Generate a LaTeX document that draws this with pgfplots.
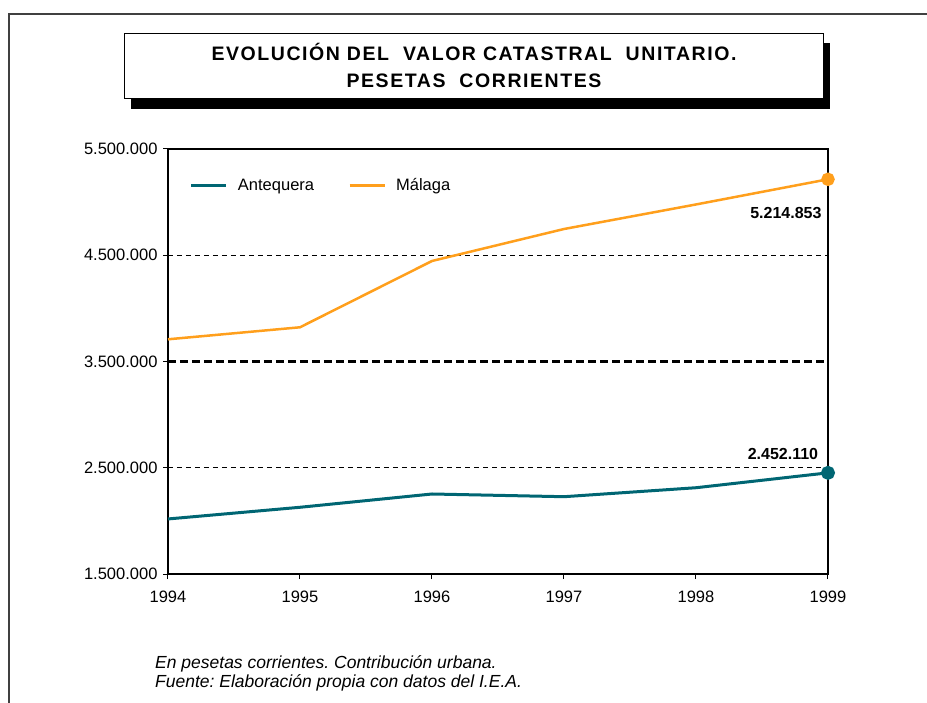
\documentclass[border=0pt]{standalone}
\usepackage{pgfplots}
\pgfplotsset{compat=1.18}
\usepackage{fontspec}
\setmainfont{Liberation Sans}
\definecolor{anteq}{HTML}{006673}
\definecolor{malaga}{HTML}{FF9F1C}
\frenchspacing
\begin{document}
\begin{tikzpicture}[x=1pt,y=1pt]
\useasboundingbox (-168,-128) rectangle (759,574);
\draw[line width=1.5pt, black!75] (-159,-140) -- (-159,560) -- (775,560);
% title box with shadow
\fill[black] (-37,465) rectangle (662,531);
\draw[fill=white, line width=1pt] (-43,475) rectangle (655,540);
\node[anchor=base, inner sep=0, font=\fontsize{19.5}{24}\selectfont\bfseries\addfontfeature{LetterSpace=8}] at (306,513.3) {EVOLUCIÓN DEL\ \ VALOR CATASTRAL\ \ UNITARIO.};
\node[anchor=base, inner sep=0, font=\fontsize{19.5}{24}\selectfont\bfseries\addfontfeature{LetterSpace=8}] at (306,486.7) {PESETAS\ \ CORRIENTES};
\begin{axis}[
  at={(0,0)}, anchor=south west, scale only axis,
  width=660pt, height=425pt,
  xmin=1994, xmax=1999, ymin=1500000, ymax=5500000,
  xtick={1994,1995,1996,1997,1998,1999},
  xticklabels={1994,1995,1996,1997,1998,1999},
  ytick={1500000,2500000,4500000,5500000},
  yticklabels={1.500.000,2.500.000,4.500.000,5.500.000},
  extra y ticks={3500000},
  extra y tick labels={3.500.000},
  extra y tick style={grid style={black, line width=2.5pt, dash pattern=on 8pt off 4pt}},
  xtick pos=bottom, ytick pos=left,
  tick align=outside, major tick length=5pt,
  tick style={black, line width=1pt},
  axis line style={black, line width=1.5pt},
  ymajorgrids,
  grid style={black, line width=0.8pt, dash pattern=on 5pt off 4pt},
  ticklabel style={font=\fontsize{16.5}{19}\selectfont},
  yticklabel style={xshift=-2pt},
  xticklabel style={yshift=-8pt},
  scaled y ticks=false,
  legend columns=2,
  legend style={at={(0.033,0.915)}, anchor=west, draw=none, fill=none, inner sep=0pt,
    font=\fontsize{16.5}{19}\selectfont,
    /tikz/every odd column/.append style={column sep=8pt},
    /tikz/every even column/.append style={column sep=32pt}},
  legend image code/.code={\draw[#1, line width=3pt] (0pt,0pt) -- (35pt,0pt);},
]
\addplot[color=anteq, line width=3pt, mark=*, mark indices={6}, mark size=5.5pt, mark options={solid}]
  coordinates {(1994,2018000) (1995,2128000) (1996,2253000) (1997,2227500) (1998,2312000) (1999,2452110)};
\addlegendentry{Antequera}
\addplot[color=malaga, line width=2.5pt, mark=*, mark indices={6}, mark size=5.5pt, mark options={solid}]
  coordinates {(1994,3709000) (1995,3822000) (1996,4446000) (1997,4747000) (1998,4978000) (1999,5214853)};
\addlegendentry{Málaga}
\node[anchor=base east, inner sep=0, xshift=-6.3pt, font=\fontsize{16}{19}\selectfont\bfseries] at (axis cs:1999,4841176) {5.214.853};
\node[anchor=base east, inner sep=0, xshift=-9.7pt, font=\fontsize{16}{19}\selectfont\bfseries] at (axis cs:1999,2582000) {2.452.110};
\end{axis}
\node[anchor=base west, inner sep=0, font=\fontsize{17.5}{20}\selectfont\itshape] at (-13,-94) {En pesetas corrientes. Contribución urbana.};
\node[anchor=base west, inner sep=0, font=\fontsize{17.5}{20}\selectfont\itshape] at (-13,-113) {Fuente: Elaboración propia con datos del I.E.A.};
\end{tikzpicture}
\end{document}
